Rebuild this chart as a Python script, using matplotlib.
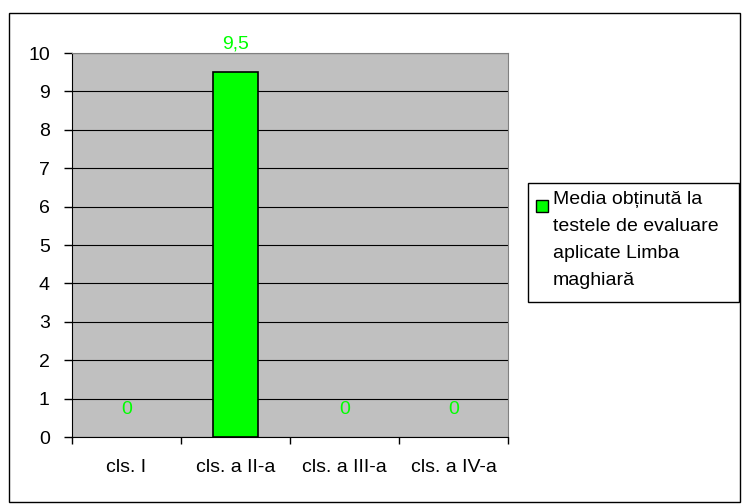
import matplotlib.pyplot as plt
from matplotlib.patches import Rectangle

plt.rcParams['font.family'] = ['Liberation Sans', 'DejaVu Sans']

categories = ['cls. I', 'cls. a II-a', 'cls. a III-a', 'cls. a IV-a']
values = [0, 9.5, 0, 0]
value_labels = ['0', '9,5', '0', '0']
series_name = 'Media obținută la\ntestele de evaluare\naplicate Limba\nmaghiară'

W, H = 742, 504
fig = plt.figure(figsize=(W / 100, H / 100), dpi=100)

# chenar exterior
fig.patches.append(Rectangle((9 / W, 2 / H), 731 / W, 489 / H,
                             transform=fig.transFigure, fill=False,
                             edgecolor='black', linewidth=1))

ax = fig.add_axes([72 / W, 67 / H, 436 / W, 384 / H])
ax.set_facecolor('#C0C0C0')

x = range(len(categories))
bars = ax.bar(x, values, width=0.41, color='#00FF00', edgecolor='black',
              linewidth=1.2, zorder=3)
for b, v in zip(bars, values):
    if v == 0:
        b.set_linewidth(0)

for xi, v, lab in zip(x, values, value_labels):
    ax.annotate(lab, (xi, v), xytext=(0, 20), textcoords='offset points',
                ha='center', va='center', color='#00FF00', fontsize=14)

ax.set_xlim(-0.5, len(categories) - 0.5)
ax.set_ylim(0, 10)
ax.set_yticks(range(0, 11))
ax.yaxis.grid(True, color='black', linewidth=0.8, zorder=1)
ax.set_axisbelow(True)

ax.set_xticks(x)
ax.set_xticklabels(categories, fontsize=14)
ax.set_xticks([i - 0.5 for i in range(len(categories) + 1)], minor=True)
ax.tick_params(axis='x', which='major', length=0, pad=16)
ax.tick_params(axis='x', which='minor', length=5, direction='out', width=1)
ax.tick_params(axis='y', length=6, direction='out', labelsize=14, width=1, pad=10)

for side in ['top', 'right']:
    ax.spines[side].set_color('#808080')
for side in ['left', 'bottom']:
    ax.spines[side].set_color('black')

# legenda
fig.patches.append(Rectangle((528 / W, 1 - 302 / H), 211 / W, 119 / H,
                             transform=fig.transFigure, facecolor='white',
                             edgecolor='black', linewidth=1))
fig.patches.append(Rectangle((536 / W, 1 - 212 / H), 12 / W, 12 / H,
                             transform=fig.transFigure, facecolor='#00FF00',
                             edgecolor='black', linewidth=1))
fig.text(553 / W, 1 - 191 / H, series_name, ha='left', va='top',
         fontsize=14, linespacing=1.78)

plt.savefig('out.png', dpi=100)
